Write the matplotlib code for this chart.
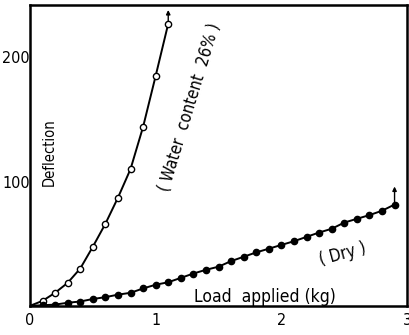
import matplotlib
matplotlib.use("Agg")
import matplotlib.pyplot as plt

# Data
wet_x = [0.0, 0.1, 0.2, 0.3, 0.4, 0.5, 0.6, 0.7, 0.8, 0.9, 1.0, 1.1]
wet_y = [0, 4, 10.5, 18.5, 30, 47.5, 66, 87, 110, 144, 185, 227]

dry_x = [0.0, 0.1, 0.2, 0.3, 0.4, 0.5, 0.6, 0.7, 0.8, 0.9, 1.0,
         1.1, 1.2, 1.3, 1.4, 1.5, 1.6, 1.7, 1.8, 1.9, 2.0,
         2.1, 2.2, 2.3, 2.4, 2.5, 2.6, 2.7, 2.8, 2.9]
dry_y = [0, 0.5, 1, 2.5, 3.5, 5.5, 7, 9, 10.5, 14, 17,
         19, 22.5, 26, 29, 31.5, 36, 39.5, 43, 46, 49,
         52, 55.5, 59, 62, 67, 70, 73, 76.5, 81.5]

x_ticks = [0, 1, 2, 3]
y_ticks = [100, 200]
x_label = "Load  applied (kg)"
y_label = "Deflection"
wet_label = "( Water  content  26% )"
dry_label = "( Dry )"

plt.rcParams['font.family'] = ['DejaVu Sans']
plt.rcParams['font.stretch'] = 'condensed'

fig = plt.figure(figsize=(4.10, 3.35), dpi=100)
ax = fig.add_axes([0.073, 0.087, 0.920, 0.898])

ax.plot(wet_x, wet_y, color='black', lw=1.4, zorder=2)
ax.plot(wet_x[1:], wet_y[1:], ls='none', marker='o', ms=4.5,
        mfc='white', mec='black', mew=1.0, zorder=3)
ax.plot(dry_x, dry_y, color='black', lw=1.4, zorder=2)
ax.plot(dry_x[1:], dry_y[1:], ls='none', marker='o', ms=4.5,
        mfc='black', mec='black', mew=1.0, zorder=3)

# arrows continuing beyond the last points
ax.annotate('', xy=(wet_x[-1], 238), xytext=(wet_x[-1], wet_y[-1]),
            arrowprops=dict(arrowstyle='-|>', color='black', lw=1.0,
                            mutation_scale=6, shrinkA=2, shrinkB=0))
ax.annotate('', xy=(dry_x[-1], 96), xytext=(dry_x[-1], dry_y[-1]),
            arrowprops=dict(arrowstyle='-|>', color='black', lw=1.0,
                            mutation_scale=6, shrinkA=2, shrinkB=0))

ax.set_xlim(0, 3)
ax.set_ylim(0, 242)
ax.set_xticks(x_ticks)
ax.set_xticklabels([str(v) for v in x_ticks])
ax.set_yticks(y_ticks)
ax.set_yticklabels([str(v) for v in y_ticks])
ax.tick_params(axis='both', length=0, labelsize=11.5)
ax.tick_params(axis='y', pad=0)
ax.tick_params(axis='x', pad=5)
for s in ax.spines.values():
    s.set_linewidth(1.8)
    s.set_color('black')

ax.text(0.15, 124, y_label, rotation=90, ha='center', va='center', fontsize=10.5)
ax.text(1.27, 160, wet_label, rotation=73, ha='center', va='center', fontsize=12)
ax.text(2.49, 42, dry_label, rotation=15, ha='center', va='center', fontsize=12)
ax.text(1.87, 7.5, x_label, ha='center', va='center', fontsize=12.5)

fig.savefig('out.png', dpi=100)
